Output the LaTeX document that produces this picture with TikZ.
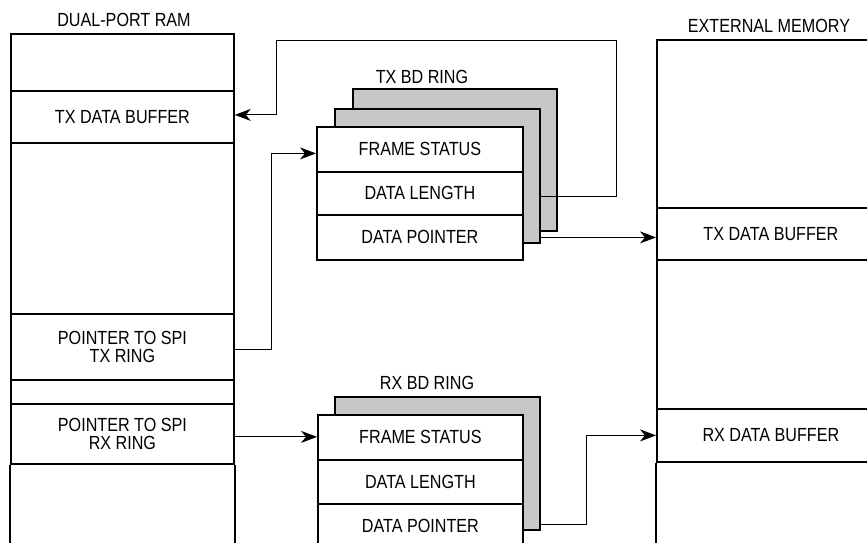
\documentclass[tikz,border=0pt]{standalone}
\usepackage{fontspec}
\setmainfont{Liberation Sans}[FakeStretch=0.85]
\usetikzlibrary{arrows.meta}
\begin{document}
\begin{tikzpicture}[x=1pt,y=-1pt,
  txt/.style={font=\fontsize{19}{18.5}\selectfont},
  cell/.style={draw, line width=1.8pt, fill=white, anchor=north west, inner sep=0pt, txt, align=center},
  shadowbox/.style={draw, line width=1.8pt, fill=black!22, anchor=north west, inner sep=0pt},
  conn/.style={line width=0.9pt},
  arr/.style={conn, -{Stealth[length=16pt,width=12pt,inset=5pt]}},
  lbl/.style={txt, inner sep=0pt}]
\useasboundingbox (0,0) rectangle (867,543);
\clip (0,0) rectangle (867,543);

% Dual-port RAM
\node[lbl] (ramlbl) at (124,20) {DUAL-PORT RAM};
\node[cell, minimum width=223, minimum height=57] (r0) at (10,33) {};
\node[cell, minimum width=223, minimum height=52] (r1) at (10,90) {TX DATA BUFFER};
\node[cell, minimum width=223, minimum height=171] (r2) at (10,142) {};
\node[cell, minimum width=223, minimum height=66] (r3) at (10,313) {POINTER TO SPI\\TX RING};
\node[cell, minimum width=223, minimum height=24] (r4) at (10,379) {};
\node[cell, minimum width=223, minimum height=60] (r5) at (10,403) {POINTER TO SPI\\RX RING};
\draw[line width=1.8pt] (r5.south west) -- ++(0,100) (r5.south east) -- ++(0,100);

% External memory
\node[lbl] (extlbl) at (769,26) {EXTERNAL MEMORY};
\node[cell, minimum width=228, minimum height=168] (e0) at (656,39) {};
\node[cell, minimum width=228, minimum height=52] (e1) at (656,207) {TX DATA BUFFER};
\node[cell, minimum width=228, minimum height=149] (e2) at (656,259) {};
\node[cell, minimum width=228, minimum height=53] (e3) at (656,408) {RX DATA BUFFER};
\draw[line width=1.8pt] (e3.south west) -- ++(0,100);

% TX BD ring
\node[lbl] (txlbl) at (422,77) {TX BD RING};
\node[shadowbox, minimum width=204, minimum height=142] (ts2) at (352,88) {};
\node[shadowbox, minimum width=205, minimum height=134] (ts1) at (334,108) {};
\node[cell, minimum width=206, minimum height=45] (tfs) at (316,126) {FRAME STATUS};
\node[cell, minimum width=206, minimum height=43] (tdl) at (316,171) {DATA LENGTH};
\node[cell, minimum width=206, minimum height=45] (tdp) at (316,214) {DATA POINTER};

% RX BD ring
\node[lbl] (rxlbl) at (427,383) {RX BD RING};
\node[shadowbox, minimum width=205, minimum height=133] (rs1) at (334,396) {};
\node[cell, minimum width=205, minimum height=45] (rfs) at (317,414) {FRAME STATUS};
\node[cell, minimum width=205, minimum height=44] (rdl) at (317,459) {DATA LENGTH};
\node[cell, minimum width=205, minimum height=45] (rdp) at (317,503) {DATA POINTER};

% Connectors
\coordinate (c1) at (616,196);
\coordinate (c2) at (276,40);
\draw[arr] (ts1.east |- c1) -- (c1) |- (c2) |- ([yshift=2pt]r1.east);
\draw[arr] ([yshift=-3pt]r3.east) -- ++(37,0) |- ([yshift=-4pt]tfs.west);
\draw[arr] (tdp.center -| ts1.east) -- (tdp.center -| e1.west);
\draw[arr] ([yshift=-3pt]r5.east) -- ([yshift=-3pt]r5.east -| rfs.west);
\coordinate (c3) at (586,524);
\draw[arr] (rs1.east |- c3) -- (c3) |- (e3.west);
\end{tikzpicture}
\end{document}
